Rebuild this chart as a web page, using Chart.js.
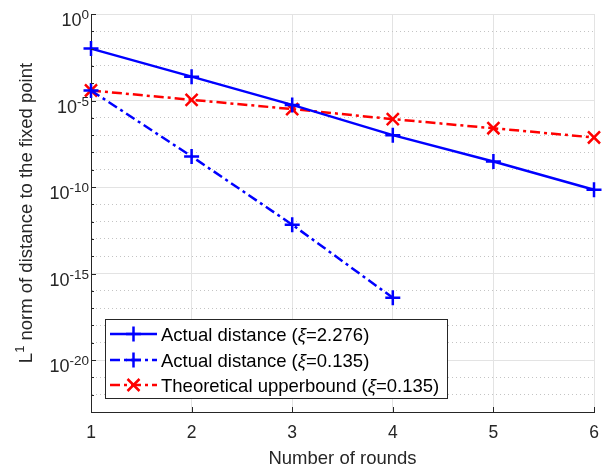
<!DOCTYPE html>
<html>
<head>
<meta charset="utf-8">
<script src="https://cdn.jsdelivr.net/npm/chart.js@4.4.0/dist/chart.umd.min.js"></script>
<style>html,body{margin:0;padding:0;background:#fff}</style>
</head>
<body>
<canvas id="c" width="605" height="468"></canvas>
<script>
const rounds = ['1', '2', '3', '4', '5', '6'];
const actualLarge = [1e-2, 2.4e-4, 5.6e-6, 1e-7, 3e-9, 7e-11];
const actualSmall = [3.8e-5, 5.9e-9, 6.7e-13, 4e-17, null, null];
const upperSmall = [3.8e-5, 1.1e-5, 3.2e-6, 8.4e-7, 2.5e-7, 7.3e-8];
const legendNames = [
  ['Actual distance (', 'ξ', '=2.276)'],
  ['Actual distance (', 'ξ', '=0.135)'],
  ['Theoretical upperbound (', 'ξ', '=0.135)']
];
const yExps = [];
for (let e = -23; e <= 0; e++) yExps.push(e);
const yLabelExps = [0, -5, -10, -15, -20];

const FONT = '"Liberation Sans", Arial, sans-serif';
const TXT = '#262626';
const dashDot = [10, 4, 3, 4];

function richText(ctx, x, y, parts, align) {
  let w = 0;
  parts.forEach(p => {
    ctx.font = (p.italic ? 'italic ' : '') + p.size + 'px ' + FONT;
    p.w = ctx.measureText(p.t).width;
    w += p.w;
  });
  let cx = align === 'right' ? x - w : align === 'center' ? x - w / 2 : x;
  parts.forEach(p => {
    ctx.font = (p.italic ? 'italic ' : '') + p.size + 'px ' + FONT;
    ctx.fillText(p.t, cx, y + (p.dy || 0));
    cx += p.w;
  });
}

function marker(ctx, style, x, y, color) {
  ctx.save();
  ctx.setLineDash([]);
  ctx.strokeStyle = color;
  ctx.lineWidth = 2.5;
  ctx.beginPath();
  if (style === 'cross') {
    ctx.moveTo(x - 7.5, y); ctx.lineTo(x + 7.5, y);
    ctx.moveTo(x, y - 7.5); ctx.lineTo(x, y + 7.5);
  } else {
    ctx.moveTo(x - 6, y - 6); ctx.lineTo(x + 6, y + 6);
    ctx.moveTo(x - 6, y + 6); ctx.lineTo(x + 6, y - 6);
  }
  ctx.stroke();
  ctx.restore();
}

const decor = {
  id: 'decor',
  afterDraw(chart) {
    const ctx = chart.ctx;
    const xs = chart.scales.x, ys = chart.scales.y;
    const a = chart.chartArea;
    ctx.save();
    // inward ticks
    ctx.strokeStyle = TXT;
    ctx.lineWidth = 1;
    ctx.beginPath();
    yExps.forEach(e => {
      const py = Math.round(ys.getPixelForValue(Math.pow(10, e))) + 0.5;
      const len = e % 5 === 0 ? 5 : 3;
      ctx.moveTo(a.left, py); ctx.lineTo(a.left + len, py);
    });
    rounds.forEach((r, i) => {
      const px = Math.round(xs.getPixelForValue(i)) + 0.5;
      ctx.moveTo(px, a.bottom); ctx.lineTo(px, a.bottom - 5);
    });
    ctx.stroke();

    ctx.fillStyle = TXT;
    ctx.textBaseline = 'alphabetic';
    // y tick labels
    yLabelExps.forEach(e => {
      const py = ys.getPixelForValue(Math.pow(10, e));
      richText(ctx, 89, py + 12, [
        { t: '10', size: 18 },
        { t: String(e), size: 13.5, dy: -7 }
      ], 'right');
    });
    // x tick labels
    rounds.forEach((r, i) => {
      richText(ctx, xs.getPixelForValue(i), 438, [{ t: r, size: 17.5 }], 'center');
    });
    // axis titles
    richText(ctx, (a.left + a.right) / 2, 464, [{ t: 'Number of rounds', size: 18.5 }], 'center');
    ctx.save();
    ctx.translate(32, (a.top + a.bottom) / 2);
    ctx.rotate(-Math.PI / 2);
    richText(ctx, 0, 0, [
      { t: 'L', size: 18.5 },
      { t: '1', size: 13, dy: -8 },
      { t: ' norm of distance to the fixed point', size: 18.5 }
    ], 'center');
    ctx.restore();

    // legend
    const lx = 105.5, ly = 319.5, lw = 342, lh = 79;
    ctx.fillStyle = '#fff';
    ctx.fillRect(lx, ly, lw, lh);
    ctx.strokeStyle = TXT;
    ctx.lineWidth = 1;
    ctx.strokeRect(lx, ly, lw, lh);
    const rows = [334, 360, 385];
    chart.data.datasets.forEach((ds, i) => {
      const ry = rows[i];
      ctx.save();
      ctx.strokeStyle = ds.borderColor;
      ctx.lineWidth = ds.borderWidth;
      ctx.setLineDash(ds.borderDash || []);
      ctx.beginPath();
      ctx.moveTo(110, ry); ctx.lineTo(157, ry);
      ctx.stroke();
      ctx.restore();
      marker(ctx, ds.pointStyle, 133.5, ry, ds.borderColor);
      ctx.fillStyle = '#000';
      const n = legendNames[i];
      richText(ctx, 161, ry + 6.5, [
        { t: n[0], size: 18.5 },
        { t: n[1], size: 18.5, italic: true },
        { t: n[2], size: 18.5 }
      ], 'left');
    });
    ctx.restore();
  }
};

new Chart(document.getElementById('c'), {
  type: 'line',
  data: {
    labels: rounds,
    datasets: [{
      data: actualLarge,
      borderColor: '#0000ff',
      borderWidth: 2.5,
      pointStyle: 'cross',
      pointRadius: 7.5,
      pointBorderWidth: 2.5,
      pointBorderColor: '#0000ff',
      fill: false,
      tension: 0,
      clip: false
    }, {
      data: actualSmall,
      borderColor: '#0000ff',
      borderWidth: 2.5,
      borderDash: dashDot,
      pointStyle: 'cross',
      pointRadius: 7.5,
      pointBorderWidth: 2.5,
      pointBorderColor: '#0000ff',
      fill: false,
      tension: 0,
      clip: false
    }, {
      data: upperSmall,
      borderColor: '#ff0000',
      borderWidth: 2.5,
      borderDash: dashDot,
      pointStyle: 'crossRot',
      pointRadius: 8.5,
      pointBorderWidth: 2.5,
      pointBorderColor: '#ff0000',
      fill: false,
      tension: 0,
      clip: false
    }]
  },
  options: {
    responsive: false,
    animation: false,
    layout: { padding: { left: 0, right: 8, top: 14, bottom: 0 } },
    plugins: { legend: { display: false }, tooltip: { enabled: false } },
    scales: {
      x: {
        type: 'category',
        offset: false,
        afterFit: s => { s.height = 56; },
        ticks: { display: false },
        grid: { color: '#e3e3e3', lineWidth: 1, drawTicks: false },
        border: { display: true, color: TXT, width: 1 }
      },
      y: {
        type: 'logarithmic',
        min: 1e-23,
        max: 1,
        afterFit: s => { s.width = 91; },
        afterBuildTicks: s => {
          s.ticks = yExps.map(e => ({ value: Math.pow(10, e) }));
        },
        ticks: { display: false },
        grid: {
          color: c => {
            if (!c.tick) return '#e3e3e3';
            const e = Math.round(Math.log10(c.tick.value));
            return e % 5 === 0 ? '#e3e3e3' : '#c4c4c4';
          },
          lineWidth: 1,
          drawTicks: false
        },
        border: {
          display: true,
          color: TXT,
          width: 1,
          dash: c => {
            if (!c.tick) return [];
            const e = Math.round(Math.log10(c.tick.value));
            return e % 5 === 0 ? [] : [1, 3];
          }
        }
      }
    }
  },
  plugins: [decor]
});
</script>
</body>
</html>
